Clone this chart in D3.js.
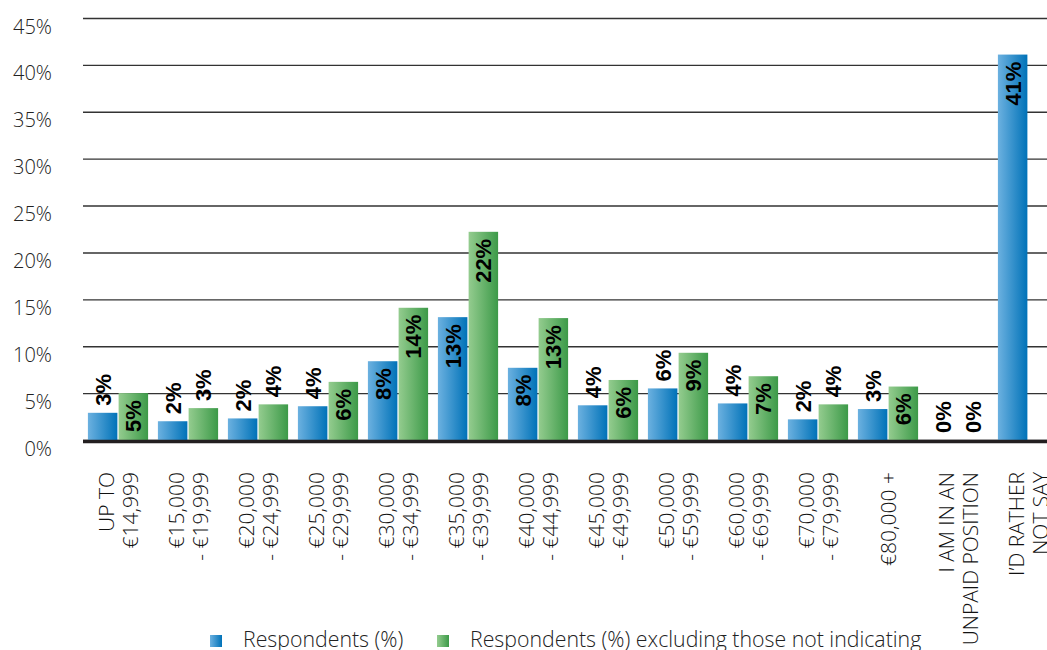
<!DOCTYPE html>
<html>
<head>
<meta charset="utf-8">
<script src="https://cdn.jsdelivr.net/npm/d3@7"></script>
<style>
  html, body { margin: 0; padding: 0; background: #fff; overflow: hidden; }
  svg { display: block; }
  .tick text { font-family: "Open Sans", sans-serif; font-weight: 300; font-size: 20px; fill: #222; }
  .cat { font-family: "Open Sans", sans-serif; font-weight: 300; font-size: 21px; fill: #111; }
  .val { font-family: "Liberation Sans", Arial, sans-serif; font-weight: bold; font-size: 22px; fill: #000; }
  .legend text { font-family: "Open Sans", sans-serif; font-weight: 300; font-size: 21.3px; fill: #222; }
</style>
</head>
<body>
<div id="chart"></div>
<script>
// donnees
const categories = [
  ["UP TO", "€14,999"],
  ["€15,000", "- €19,999"],
  ["€20,000", "- €24,999"],
  ["€25,000", "- €29,999"],
  ["€30,000", "- €34,999"],
  ["€35,000", "- €39,999"],
  ["€40,000", "- €44,999"],
  ["€45,000", "- €49,999"],
  ["€50,000", "- €59,999"],
  ["€60,000", "- €69,999"],
  ["€70,000", "- €79,999"],
  ["€80,000 +"],
  ["I AM IN AN", "UNPAID POSITION"],
  ["I’D RATHER", "NOT SAY"]
];
const respondents = [2.9, 2.0, 2.3, 3.6, 8.4, 13.1, 7.7, 3.7, 5.5, 3.9, 2.2, 3.3, 0, 41.1];
const excluding   = [5.0, 3.4, 3.8, 6.2, 14.1, 22.2, 13.0, 6.4, 9.3, 6.8, 3.8, 5.7, 0, null];
const seriesNames = ["Respondents (%)", "Respondents (%) excluding those not indicating"];
const yTicks = [0, 5, 10, 15, 20, 25, 30, 35, 40, 45];

const W = 1047, H = 650;
const svg = d3.select("#chart").append("svg").attr("width", W).attr("height", H);

// degrades horizontaux
const defs = svg.append("defs");
const grads = [
  { id: "gBlue", from: "#6cb1e0", to: "#0072b8" },
  { id: "gGreen", from: "#94cc8f", to: "#3c9a48" }
];
grads.forEach(g => {
  const lg = defs.append("linearGradient").attr("id", g.id)
    .attr("x1", "0%").attr("x2", "100%").attr("y1", "0%").attr("y2", "0%");
  lg.append("stop").attr("offset", "0%").attr("stop-color", g.from);
  lg.append("stop").attr("offset", "100%").attr("stop-color", g.to);
});
const fills = ["url(#gBlue)", "url(#gGreen)"];
const insideMin = [7, 5]; // etiquette dans la barre au-dela de cette valeur

const left = 83;
const x0 = d3.scaleBand()
  .domain(d3.range(categories.length))
  .range([left, left + categories.length * 70])
  .paddingInner(0.14)
  .paddingOuter(0.07);
const x1 = d3.scaleBand().domain([0, 1]).range([0, x0.bandwidth()]).paddingInner(0.04);
const y = d3.scaleLinear().domain([0, 45]).range([440, 18]);

// grille + axe Y
const yAxis = svg.append("g")
  .attr("transform", `translate(${left},0)`)
  .call(d3.axisLeft(y).tickValues(yTicks).tickFormat(d => d + "%").tickSize(-(W - left)).tickPadding(31));
yAxis.select(".domain").remove();
yAxis.selectAll(".tick line").attr("stroke", "#333").attr("stroke-width", 1.4);
yAxis.selectAll(".tick text").attr("dy", "0.75em");

// barres
const series = [respondents, excluding];
const bars = [];
categories.forEach((c, i) => {
  series.forEach((s, k) => {
    if (s[i] == null) return;
    bars.push({ i, k, v: s[i] });
  });
});

svg.append("g").selectAll("rect")
  .data(bars.filter(d => d.v > 0))
  .join("rect")
  .attr("x", d => x0(d.i) + x1(d.k))
  .attr("y", d => y(d.v))
  .attr("width", x1.bandwidth())
  .attr("height", d => y(0) - y(d.v))
  .attr("fill", d => fills[d.k]);

// ligne de base
svg.append("line")
  .attr("x1", left).attr("x2", W)
  .attr("y1", y(0) + 1.5).attr("y2", y(0) + 1.5)
  .attr("stroke", "#231f20").attr("stroke-width", 3.5);

// etiquettes de valeur
svg.append("g").selectAll("text")
  .data(bars)
  .join("text")
  .attr("class", "val")
  .attr("transform", d => {
    const cx = x0(d.i) + x1(d.k) + x1.bandwidth() / 2;
    const inside = d.v >= insideMin[d.k];
    const ty = inside ? y(d.v) + 7 : y(d.v) - 7;
    return `translate(${cx},${ty}) rotate(-90)`;
  })
  .attr("text-anchor", d => d.v >= insideMin[d.k] ? "end" : "start")
  .attr("dy", "0.36em")
  .text(d => Math.round(d.v) + "%");

// libelles des categories
const catG = svg.append("g").selectAll("g")
  .data(categories)
  .join("g")
  .attr("transform", (d, i) => `translate(${x0(i) + x0.bandwidth() / 2},472) rotate(-90)`);
catG.selectAll("text")
  .data(d => d.map((t, j) => ({ t, j, n: d.length })))
  .join("text")
  .attr("class", "cat")
  .attr("text-anchor", "end")
  .attr("y", d => (d.j - (d.n - 1) / 2) * 24)
  .attr("dy", "0.36em")
  .text(d => d.t);

// legende
const legendX = [210, 437];
const legend = svg.append("g").attr("class", "legend");
seriesNames.forEach((name, k) => {
  legend.append("rect")
    .attr("x", legendX[k]).attr("y", 635)
    .attr("width", 12).attr("height", 12)
    .attr("fill", fills[k]);
  legend.append("text")
    .attr("x", legendX[k] + 33).attr("y", 647)
    .text(name);
});
</script>
</body>
</html>
